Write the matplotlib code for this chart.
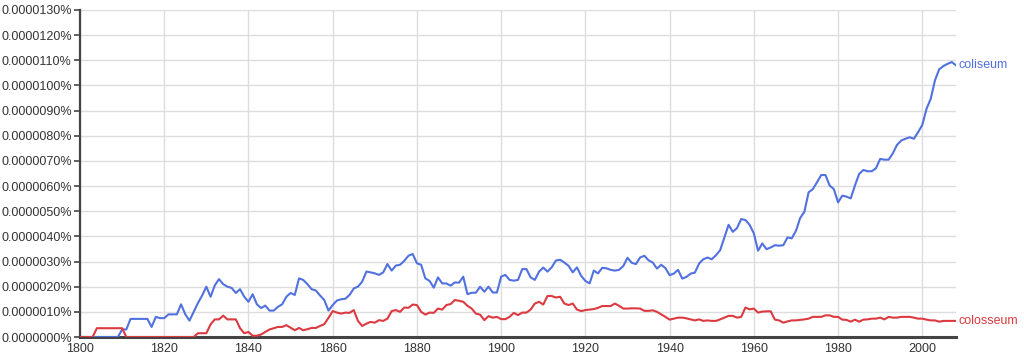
import matplotlib
matplotlib.use("Agg")
import matplotlib.pyplot as plt
import numpy as np

plt.rcParams['font.family'] = ['Liberation Sans', 'DejaVu Sans']

# years 1800..2008, values in units of 0.000001 %
years = list(range(1800, 2009))

coliseum = (
    [0.0] * 10 +                                                # 1800-1809
    [0.3, 0.3, 0.72, 0.72, 0.72, 0.72, 0.72, 0.4, 0.8, 0.75,    # 1810-1819
     0.75, 0.9, 0.9, 0.9, 1.3, 0.9, 0.65, 1.0, 1.35, 1.65,      # 1820-1829
     2.0, 1.6, 2.05, 2.3, 2.1, 2.0, 1.95, 1.75, 1.9, 1.6,       # 1830-1839
     1.4, 1.7, 1.3, 1.15, 1.25, 1.05, 1.05, 1.2, 1.3, 1.6,      # 1840-1849
     1.75, 1.67, 2.33, 2.27, 2.1, 1.9, 1.85, 1.65, 1.47, 1.05,  # 1850-1859
     1.27, 1.45, 1.5, 1.52, 1.67, 1.93, 2.0, 2.2, 2.6, 2.57,    # 1860-1869
     2.53, 2.47, 2.57, 2.9, 2.64, 2.84, 2.87, 3.03, 3.23, 3.3,  # 1870-1879
     2.93, 2.87, 2.33, 2.23, 1.96, 2.37, 2.13, 2.13, 2.04, 2.17,  # 1880-1889
     2.16, 2.4, 1.7, 1.76, 1.76, 2.0, 1.8, 2.0, 1.77, 1.77,     # 1890-1899
     2.4, 2.47, 2.27, 2.24, 2.27, 2.7, 2.7, 2.37, 2.27, 2.6,    # 1900-1909
     2.76, 2.6, 2.77, 3.04, 3.07, 2.96, 2.83, 2.57, 2.77, 2.43,  # 1910-1919
     2.23, 2.13, 2.64, 2.53, 2.75, 2.73, 2.67, 2.64, 2.67, 2.82,  # 1920-1929
     3.15, 2.95, 2.9, 3.16, 3.23, 3.05, 2.96, 2.72, 2.87, 2.74,  # 1930-1939
     2.46, 2.52, 2.67, 2.32, 2.39, 2.52, 2.56, 2.92, 3.09, 3.16,  # 1940-1949
     3.09, 3.25, 3.45, 3.96, 4.46, 4.18, 4.33, 4.69, 4.65, 4.46,  # 1950-1959
     4.12, 3.43, 3.72, 3.49, 3.56, 3.65, 3.63, 3.65, 3.96, 3.92,  # 1960-1969
     4.22, 4.73, 4.98, 5.75, 5.88, 6.15, 6.44, 6.44, 6.02, 5.88,  # 1970-1979
     5.35, 5.62, 5.58, 5.51, 6.02, 6.48, 6.64, 6.59, 6.59, 6.71,  # 1980-1989
     7.08, 7.05, 7.05, 7.3, 7.64, 7.81, 7.88, 7.94, 7.88, 8.14,  # 1990-1999
     8.43, 9.07, 9.47, 10.2, 10.64, 10.77, 10.86, 10.93, 10.8]   # 2000-2008
)

colosseum = (
    [0.0] * 4 +                                                 # 1800-1803
    [0.35] * 7 +                                                # 1804-1810
    [0.0] * 17 +                                                # 1811-1827
    [0.15, 0.15,                                                # 1828-1829
     0.15, 0.5, 0.7, 0.7, 0.85, 0.7, 0.7, 0.7, 0.35, 0.15,      # 1830-1839
     0.2, 0.05, 0.05, 0.1, 0.2, 0.3, 0.35, 0.4, 0.4, 0.47,      # 1840-1849
     0.37, 0.27, 0.36, 0.27, 0.31, 0.36, 0.36, 0.44, 0.51, 0.76,  # 1850-1859
     1.03, 0.97, 0.93, 0.97, 0.96, 1.07, 0.64, 0.44, 0.53, 0.6,  # 1860-1869
     0.57, 0.67, 0.64, 0.73, 1.03, 1.07, 1.0, 1.17, 1.16, 1.29,  # 1870-1879
     1.27, 1.0, 0.89, 0.97, 0.96, 1.13, 1.09, 1.27, 1.31, 1.47,  # 1880-1889
     1.44, 1.4, 1.24, 1.13, 0.93, 0.89, 0.67, 0.83, 0.77, 0.8,  # 1890-1899
     0.71, 0.71, 0.8, 0.96, 0.87, 0.97, 0.97, 1.09, 1.33, 1.4,  # 1900-1909
     1.29, 1.63, 1.63, 1.57, 1.6, 1.33, 1.27, 1.33, 1.09, 1.03,  # 1910-1919
     1.07, 1.09, 1.11, 1.16, 1.23, 1.23, 1.23, 1.33, 1.24, 1.13,  # 1920-1929
     1.13, 1.14, 1.14, 1.13, 1.04, 1.04, 1.06, 1.0, 0.9, 0.8,   # 1930-1939
     0.69, 0.73, 0.77, 0.77, 0.74, 0.7, 0.66, 0.7, 0.64, 0.66,  # 1940-1949
     0.64, 0.64, 0.7, 0.77, 0.84, 0.84, 0.77, 0.8, 1.17, 1.1,   # 1950-1959
     1.13, 0.97, 1.01, 1.02, 1.02, 0.69, 0.66, 0.57, 0.62, 0.66,  # 1960-1969
     0.66, 0.68, 0.7, 0.73, 0.8, 0.8, 0.8, 0.86, 0.86, 0.8,     # 1970-1979
     0.8, 0.69, 0.68, 0.61, 0.69, 0.61, 0.69, 0.7, 0.73, 0.73,  # 1980-1989
     0.77, 0.7, 0.8, 0.77, 0.77, 0.8, 0.8, 0.8, 0.77, 0.73,     # 1990-1999
     0.73, 0.69, 0.66, 0.66, 0.61, 0.64, 0.64, 0.64, 0.64]      # 2000-2008
)

series_names = ['coliseum', 'colosseum']
series_colors = ['#5271e0', '#dc3a40']

x_ticks = list(range(1800, 2001, 20))
y_ticks = list(range(0, 14))
y_tick_labels = ['0.%07d%%' % (v * 10) for v in y_ticks]

fig = plt.figure(figsize=(10.24, 3.6), dpi=100)
ax = fig.add_axes([80 / 1024, 1 - 337 / 360, (956 - 80) / 1024, (337 - 10) / 360])

for name, vals, col in zip(series_names, [coliseum, colosseum], series_colors):
    ax.plot(years, vals, color=col, lw=1.5, solid_joinstyle='round', zorder=3)
    ax.text(years[-1] + 0.5, vals[-1], name, color=col, fontsize=9,
            va='center', ha='left', clip_on=False)

ax.set_xlim(1800, 2008)
ax.set_ylim(0, 13)
ax.set_xticks(x_ticks)
ax.set_yticks(y_ticks)
ax.set_yticklabels(y_tick_labels)
ax.grid(True, color='#dddddd', lw=1.0, zorder=0)
ax.set_axisbelow(True)

for s in ['top', 'right']:
    ax.spines[s].set_visible(False)
ax.spines['left'].set_color('#444444')
ax.spines['left'].set_linewidth(1.6)
ax.spines['bottom'].set_color('#444444')
ax.spines['bottom'].set_linewidth(2.2)

ax.tick_params(axis='y', length=4, width=1.2, color='#444444', labelsize=9,
               labelcolor='#333333', pad=2)
ax.tick_params(axis='x', length=0, labelsize=9, labelcolor='#333333', pad=4)

fig.savefig('out.png', dpi=100)
